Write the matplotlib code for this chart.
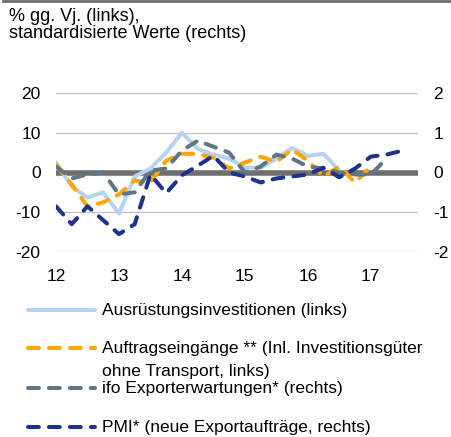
import matplotlib
matplotlib.use('Agg')
import matplotlib.pyplot as plt
from matplotlib.lines import Line2D
import numpy as np

plt.rcParams['font.family'] = ['Liberation Sans', 'DejaVu Sans']
plt.rcParams['axes.unicode_minus'] = False

# quarterly values, 2012Q1 onwards
years = ['12', '13', '14', '15', '16', '17']
ausruestung = [2.5, -3.5, -6.3, -5.0, -10.3, -1.0, 1.0, 5.0, 10.0, 6.0, 4.5, 3.5,
               1.2, 1.2, 3.5, 6.2, 4.2, 4.7, 0.5]                       # links
auftraege = [2.0, -3.0, -8.5, -7.5, -5.5, -2.0, -2.5, 3.0, 4.7, 4.7, 3.7, 1.0,
             2.5, 4.0, 2.7, 5.8, 3.0, -1.0, 1.5, -2.5, 1.5]              # links
ifo = [0.15, -0.15, -0.05, 0.0, -0.55, -0.5, 0.05, 0.1, 0.55, 0.8, 0.65, 0.5,
       0.0, 0.15, 0.45, 0.35, 0.15, 0.1, 0.0, -0.05, -0.05, 0.35]        # rechts
pmi = [-0.85, -1.3, -0.85, -1.2, -1.55, -1.3, -0.05, -0.52, -0.07, 0.17, 0.42, 0.0,
       -0.1, -0.25, -0.15, -0.1, -0.05, 0.12, -0.12, 0.1, 0.4, 0.45, 0.55]  # rechts

labels = ['Ausrüstungsinvestitionen (links)',
          'Auftragseingänge ** (Inl. Investitionsgüter',
          'ifo Exporterwartungen* (rechts)',
          'PMI* (neue Exportaufträge, rechts)']

c_light = '#b7d3ef'
c_orange = '#ffa600'
c_gray = '#5f7689'
c_navy = '#1c3190'
lw = 2.9
dash = (0, (2.7, 2.5))
fs = 12.5

W, H = 452, 437
fig = plt.figure(figsize=(W / 100, H / 100), dpi=100)
ax = fig.add_axes([56 / W, (H - 252) / H, (418 - 56) / W, (252 - 93) / H])
ax2 = ax.twinx()

for a in (ax, ax2):
    for s in a.spines.values():
        s.set_visible(False)
    a.tick_params(length=0, labelsize=fs)

ax.set_xlim(0, 23)
ax.set_ylim(-20, 20)
ax2.set_ylim(-2, 2)
ax.set_yticks([-20, -10, 0, 10, 20])
ax2.set_yticks([-2, -1, 0, 1, 2])
ax.set_xticks(np.arange(len(years)) * 4)
ax.set_xticklabels(years)
ax.tick_params(axis='x', pad=12)
ax.tick_params(axis='y', pad=11)
ax2.tick_params(axis='y', pad=11)

for v in [-20, -10, 10, 20]:
    ax.axhline(v, color='#c4c4c4', lw=1, zorder=0)
ax.axhline(0, color='#6e6e6e', lw=4, zorder=1)

ax.plot(np.arange(len(ausruestung)), ausruestung, color=c_light, lw=lw,
        solid_capstyle='round', solid_joinstyle='round', zorder=2)
ax.plot(np.arange(len(auftraege)), auftraege, color=c_orange, lw=lw, ls=dash,
        dash_capstyle='round', zorder=3)
ax2.plot(np.arange(len(ifo)), ifo, color=c_gray, lw=lw, ls=dash,
         dash_capstyle='round', zorder=2)
ax2.plot(np.arange(len(pmi)), pmi, color=c_navy, lw=lw, ls=dash,
         dash_capstyle='round', zorder=3)

# header
fig.add_artist(Line2D([3 / W, 1], [1 - 1 / H, 1 - 1 / H], color='#6e6e6e', lw=2))
fig.text(9 / W, 1 - 21 / H, '% gg. Vj. (links),', fontsize=13, va='baseline')
fig.text(9 / W, 1 - 38 / H, 'standardisierte Werte (rechts)', fontsize=13, va='baseline')

# legend
handles = [(c_light, '-', 310), (c_orange, dash, 348), (c_gray, dash, 388), (c_navy, dash, 427)]
for (col, st, yy), lab in zip(handles, labels):
    kw = dict(solid_capstyle='round') if st == '-' else dict(dash_capstyle='round')
    fig.add_artist(Line2D([28 / W, 95 / W], [1 - yy / H, 1 - yy / H], color=col,
                          lw=lw, ls=st, **kw))
    fig.text(102 / W, 1 - (yy + 5) / H, lab, fontsize=fs, va='baseline')
fig.text(102 / W, 1 - 376 / H, 'ohne Transport, links)', fontsize=fs, va='baseline')

fig.savefig('out.png', dpi=100)
